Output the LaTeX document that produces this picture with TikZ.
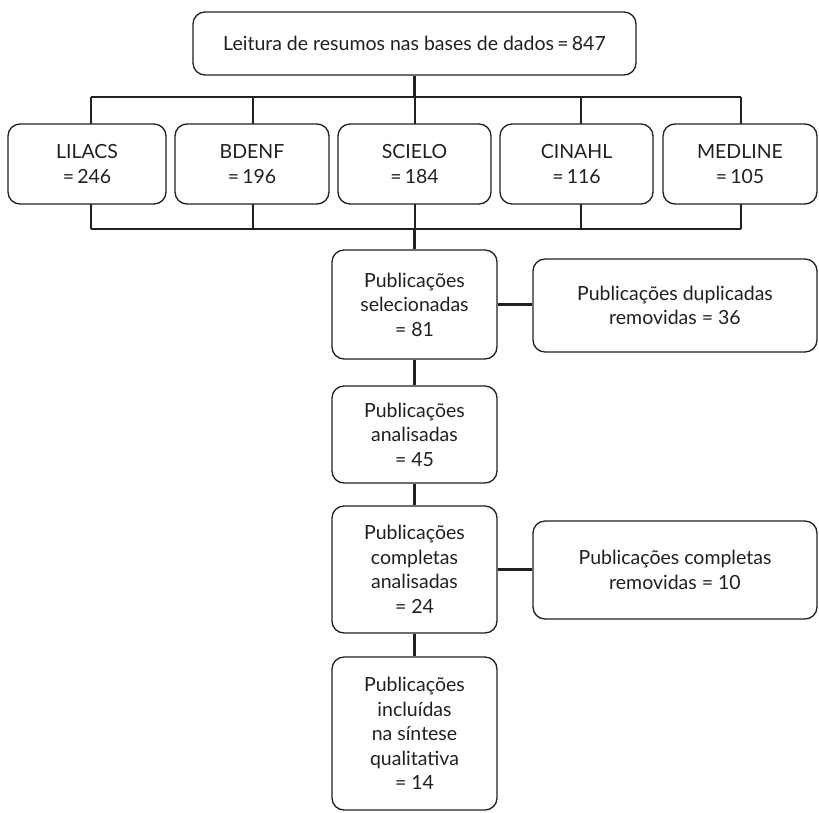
\documentclass[tikz,border=0pt]{standalone}
\usepackage{fontspec}
\setmainfont{Lato}
\begin{document}
\begin{tikzpicture}[x=1pt,y=-1pt,
  box/.style={draw=ink, line width=1.3pt, rounded corners=12pt, align=center, text=ink,
    inner sep=0pt, font=\fontsize{19.5}{24.5}\selectfont},
  conn/.style={draw=ink, line width=2.4pt}]
\definecolor{ink}{HTML}{231F20}
\useasboundingbox (0,0) rectangle (819,812);
\node[box, minimum width=443pt, minimum height=63pt] (top) at (414.5,43.5) {Leitura de resumos nas bases de dados\,=\,847};
\node[box, minimum width=158pt, minimum height=80pt] (lil) at (87,164) {LILACS\\=\,246};
\node[box, minimum width=154pt, minimum height=80pt] (bde) at (252,164) {BDENF\\=\,196};
\node[box, minimum width=153pt, minimum height=80pt] (sci) at (414.5,164) {SCIELO\\=\,184};
\node[box, minimum width=153pt, minimum height=80pt] (cin) at (576.5,164) {CINAHL\\=\,116};
\node[box, minimum width=154pt, minimum height=80pt] (med) at (740,164) {MEDLINE\\=\,105};
\node[box, minimum width=165pt, minimum height=109pt] (sel) at (414.5,304.5) {Publicações\\selecionadas\\= 81};
\node[box, minimum width=284pt, minimum height=93pt] (dup) at (675,305.5) {Publicações duplicadas\\removidas = 36};
\node[box, minimum width=165pt, minimum height=97pt] (ana) at (414.5,434.5) {Publicações\\analisadas\\= 45};
\node[box, minimum width=165pt, minimum height=127pt] (com) at (414.5,569.5) {Publicações\\completas\\analisadas\\= 24};
\node[box, minimum width=284pt, minimum height=98pt] (rem) at (675,570) {Publicações completas\\removidas = 10};
\node[box, minimum width=165pt, minimum height=153pt] (inc) at (414.5,733.5) {Publicações\\incluídas\\na síntese\\qualitativa\\= 14};
\coordinate (tl) at (91,97);
\coordinate (tr) at (741,97);
\coordinate (bl) at (91,229);
\coordinate (br) at (741,229);
\draw[conn] (tl) -- (tr);
\draw[conn] (bl) -- (br);
\draw[conn] (top.south) -- (top.south |- tl);
\foreach \n/\xx in {lil/91,bde/253,sci/415,cin/581,med/741}{
  \draw[conn] (\xx,97) -- (\xx,124);
  \draw[conn] (\xx,204) -- (\xx,229);
}
\draw[conn] (sci.south |- bl) -- (sel.north);
\draw[conn] (sel.east) -- (sel.east -| dup.west);
\draw[conn] (sel.south) -- (ana.north);
\draw[conn] (ana.south) -- (com.north);
\draw[conn] (com.east) -- (com.east -| rem.west);
\draw[conn] (com.south) -- (inc.north);
\end{tikzpicture}
\end{document}
